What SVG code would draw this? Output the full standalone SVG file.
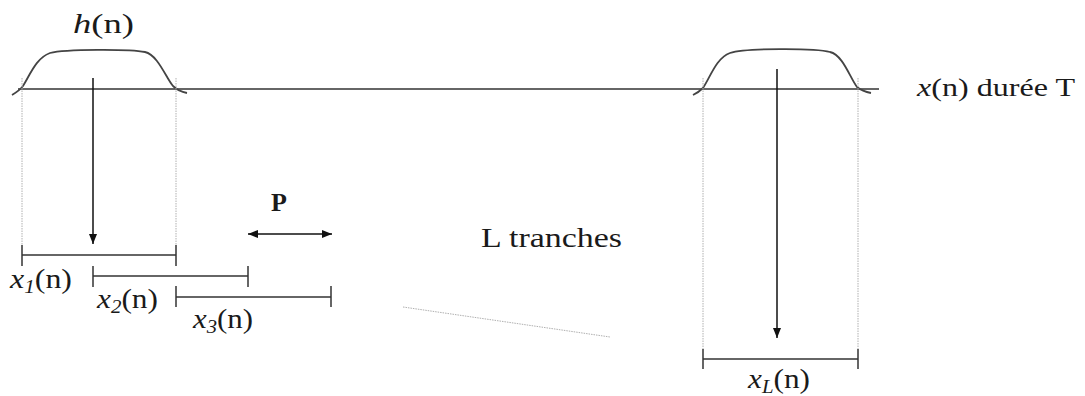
<svg xmlns="http://www.w3.org/2000/svg" width="1085" height="396" viewBox="0 0 1085 396">
<defs>
<style>
.ln{stroke:#333;stroke-width:1.5;fill:none}
.guide{stroke:#b0b0b0;stroke-width:1;fill:none;stroke-dasharray:1.5,1}
.arr{stroke:#111;stroke-width:1.5;fill:none}
.bump{stroke:#444;stroke-width:1.8;fill:none}
</style>
<marker id="ah" viewBox="0 0 10 10" refX="10" refY="5" markerWidth="10" markerHeight="10" markerUnits="userSpaceOnUse" orient="auto-start-reverse">
<path d="M0,1 L10,5 L0,9 Z" fill="#111"/>
</marker>
</defs>

<g id="signal">
<line class="ln" x1="18" y1="89" x2="879" y2="89"/>
<text font-family="Liberation Serif" font-size="26" fill="#1a1a1a" x="917" y="96" textLength="158" lengthAdjust="spacingAndGlyphs"><tspan font-style="italic">x</tspan>(n) durée T</text>
</g>

<g id="window-1">
<path class="bump" d="M12,95 C17,92 20,90 23,86 C30,75 36,58 50,53 C65,49 130,49 145,52 C158,55 166,78 173,86 C178,91 182,92 187,93"/>
<text font-family="Liberation Serif" font-size="27" fill="#1a1a1a" x="73" y="33" textLength="61" lengthAdjust="spacingAndGlyphs"><tspan font-style="italic">h</tspan>(n)</text>
<line class="guide" x1="22" y1="78" x2="22" y2="245"/>
<line class="guide" x1="176" y1="78" x2="176" y2="245"/>
</g>

<g id="window-L">
<path class="bump" d="M693,95 C697,93 700,91 703,88 C710,78 716,58 730,53 C745,48 815,48 830,52 C843,55 850,78 857,87 C862,91 866,92 871,93"/>
<line class="guide" x1="703" y1="78" x2="703" y2="349"/>
<line class="guide" x1="858" y1="78" x2="858" y2="349"/>
</g>

<g id="slice-1">
<line class="ln" x1="22" y1="255" x2="176" y2="255"/>
<line class="ln" x1="22" y1="245" x2="22" y2="266"/>
<line class="ln" x1="176" y1="245" x2="176" y2="266"/>
<text font-family="Liberation Serif" font-size="27" fill="#1a1a1a" x="10" y="288" textLength="62" lengthAdjust="spacingAndGlyphs"><tspan font-style="italic">x</tspan><tspan font-style="italic" font-size="18" dy="5">1</tspan><tspan dy="-5">(n)</tspan></text>
</g>

<g id="slice-2">
<line class="ln" x1="93" y1="276" x2="248" y2="276"/>
<line class="ln" x1="93" y1="266" x2="93" y2="287"/>
<line class="ln" x1="248" y1="266" x2="248" y2="287"/>
<text font-family="Liberation Serif" font-size="27" fill="#1a1a1a" x="97" y="308" textLength="61" lengthAdjust="spacingAndGlyphs"><tspan font-style="italic">x</tspan><tspan font-style="italic" font-size="18" dy="5">2</tspan><tspan dy="-5">(n)</tspan></text>
</g>

<g id="slice-3">
<line class="ln" x1="176" y1="297" x2="331" y2="297"/>
<line class="ln" x1="176" y1="286" x2="176" y2="307"/>
<line class="ln" x1="331" y1="286" x2="331" y2="307"/>
<text font-family="Liberation Serif" font-size="27" fill="#1a1a1a" x="193" y="328" textLength="60" lengthAdjust="spacingAndGlyphs"><tspan font-style="italic">x</tspan><tspan font-style="italic" font-size="18" dy="5">3</tspan><tspan dy="-5">(n)</tspan></text>
</g>

<g id="slice-L">
<line class="ln" x1="703" y1="359" x2="858" y2="359"/>
<line class="ln" x1="703" y1="349" x2="703" y2="369"/>
<line class="ln" x1="858" y1="349" x2="858" y2="369"/>
<text font-family="Liberation Serif" font-size="27" fill="#1a1a1a" x="748" y="388" textLength="62" lengthAdjust="spacingAndGlyphs"><tspan font-style="italic">x</tspan><tspan font-style="italic" font-size="18" dy="5">L</tspan><tspan dy="-5">(n)</tspan></text>
</g>

<g id="hop-P">
<text font-family="Liberation Serif" font-size="26" font-weight="bold" fill="#1a1a1a" x="271" y="211">P</text>
</g>

<g id="label-L">
<text font-family="Liberation Serif" font-size="28" fill="#1a1a1a" x="481" y="247" textLength="141" lengthAdjust="spacingAndGlyphs">L tranches</text>
</g>

<g id="connectors">
<line class="arr" x1="93" y1="78" x2="93" y2="244" marker-end="url(#ah)"/>
<line class="arr" x1="777" y1="69" x2="777" y2="338" marker-end="url(#ah)"/>
<line class="arr" x1="248" y1="234" x2="332" y2="234" marker-start="url(#ah)" marker-end="url(#ah)"/>
<line class="guide" x1="403" y1="307" x2="610" y2="337"/>
</g>
</svg>
